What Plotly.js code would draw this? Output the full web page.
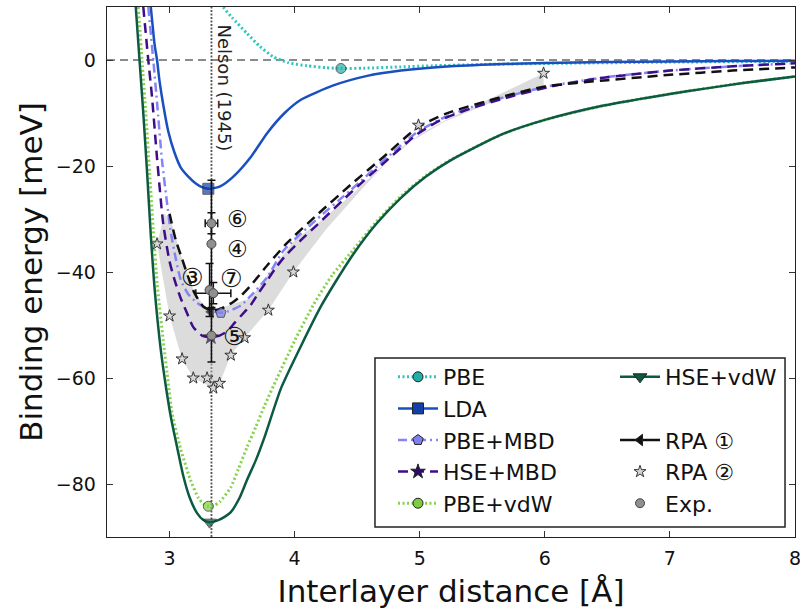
<!DOCTYPE html>
<html><head><meta charset="utf-8">
<script src="https://cdn.plot.ly/plotly-3.0.1.min.js"></script>
<style>html,body{margin:0;padding:0;background:#fff}#chart{width:800px;height:615px}</style>
</head><body><div id="chart"></div><script>
// ---------- data ----------
const xPBE = [3.40, 3.43, 3.50, 3.62, 3.72, 3.83, 3.95, 4.10, 4.25, 4.37, 4.55, 4.85, 5.10, 5.50, 6.00, 7.00, 8.00];
const yPBE = [11.5, 10, 8, 5, 2.6, 0.6, -0.5, -1.1, -1.45, -1.6, -1.55, -1.3, -1.1, -0.85, -0.65, -0.4, -0.25];

const xLDA = [2.84, 2.85, 2.88, 2.90, 2.92, 2.95, 2.99, 3.04, 3.09, 3.15, 3.21, 3.26, 3.31, 3.40, 3.51, 3.65, 3.78, 3.92, 4.05, 4.31, 4.58, 4.85, 5.11, 5.50, 6.00, 6.50, 7.00, 7.50, 8.00];
const yLDA = [12, 10, 3, 0, -4, -8.5, -13.5, -17.5, -20.3, -22, -23.3, -24, -24.3, -23.9, -22, -18.3, -13.8, -10, -7.5, -4.8, -3.0, -2.0, -1.4, -0.9, -0.55, -0.4, -0.3, -0.2, -0.15];

const xPBEMBD = [2.83, 2.87, 2.90, 2.94, 2.98, 3.01, 3.05, 3.09, 3.15, 3.22, 3.30, 3.36, 3.41, 3.47, 3.57, 3.67, 3.78, 3.91, 4.18, 4.45, 4.71, 4.98, 5.20, 5.50, 6.00, 6.50, 7.00, 7.50, 8.00];
const yPBEMBD = [10, 0, -8, -19, -27, -32.5, -37.5, -41.5, -44.2, -45.8, -47, -47.5, -47.7, -47.4, -46.3, -44, -41, -36, -30, -24.5, -19, -13.6, -10.8, -8.2, -5.1, -3.2, -2.0, -1.2, -0.6];

const xHSEMBD = [2.79, 2.83, 2.86, 2.90, 2.95, 3.00, 3.04, 3.09, 3.13, 3.19, 3.26, 3.33, 3.40, 3.46, 3.52, 3.57, 3.65, 3.71, 3.77, 3.84, 3.92, 4.05, 4.18, 4.45, 4.71, 4.98, 5.17, 5.40, 5.65, 6.05, 6.45, 7.00, 7.50, 8.00];
const yHSEMBD = [10, 0, -7, -18.5, -31, -38, -41.5, -45, -47.2, -50.4, -52, -52.3, -52, -51.2, -49.6, -48.3, -46.2, -44, -42, -39.5, -37.1, -34, -31.1, -25, -19.5, -14, -11.3, -9.2, -7.4, -5.0, -3.4, -2.0, -1.2, -0.6];

const xPBEvdW = [2.75, 2.78, 2.81, 2.84, 2.87, 2.90, 2.95, 2.99, 3.02, 3.09, 3.17, 3.23, 3.27, 3.31, 3.35, 3.40, 3.49, 3.55, 3.62, 3.69, 3.76, 3.86, 4.00, 4.15, 4.30, 4.47, 4.65, 4.85, 5.05, 5.25, 5.66, 6.00, 6.47, 7.00, 7.50, 8.00];
const yPBEvdW = [10, 0, -10, -21, -32, -42, -53, -61, -66.6, -73.5, -79.4, -82.6, -83.7, -84.2, -84.1, -83.4, -80.6, -77.2, -73, -69.2, -65.2, -60, -53, -46.2, -40.6, -35.8, -30.6, -25.7, -21.8, -18.8, -14, -11.3, -8.6, -6.4, -4.6, -3.1];

const xHSEvdW = [2.73, 2.76, 2.79, 2.82, 2.85, 2.88, 2.93, 2.97, 3.01, 3.06, 3.11, 3.16, 3.22, 3.27, 3.32, 3.38, 3.44, 3.49, 3.56, 3.62, 3.69, 3.76, 3.89, 4.05, 4.21, 4.31, 4.47, 4.65, 4.85, 5.05, 5.25, 5.66, 6.00, 6.47, 7.00, 7.28, 7.60, 8.00];
const yHSEvdW = [10, 0, -10, -21, -33, -43, -54.7, -61.5, -67.3, -73, -78.5, -82.5, -85.5, -86.8, -87.2, -86.9, -86.2, -85.3, -82.6, -79.2, -75.5, -71.1, -62, -54, -46.5, -42.5, -36.6, -31, -26, -22, -18.9, -14, -11.3, -8.6, -6.4, -5.4, -4.3, -3.1];

const xRPA1 = [3.00, 3.05, 3.10, 3.15, 3.20, 3.27, 3.34, 3.42, 3.50, 3.57, 3.64, 3.79, 3.94, 4.18, 4.45, 4.71, 4.98, 5.20, 5.65, 6.00, 6.50, 7.00, 7.50, 8.00];
const yRPA1 = [-29, -34, -37.5, -41, -44, -46.5, -47.3, -46.8, -45.8, -44.5, -42.8, -38.5, -34.5, -29.2, -23.5, -18.3, -12.8, -10.2, -7, -5, -3.8, -2.8, -2.0, -1.4];

// RPA (2) individual results
const xRPA2 = [2.90, 3.00, 3.10, 3.19, 3.30, 3.35, 3.40, 3.49, 3.60, 3.79, 3.99, 4.99, 5.99];
const yRPA2 = [-34.7, -48.3, -56.4, -60.0, -60.0, -61.9, -61.0, -55.7, -52.4, -47.2, -40.0, -12.3, -2.5];

// grey spread of RPA results (polygon outline)
const bandX = [2.90, 2.96, 3.02, 3.10, 3.20, 3.30, 3.40, 3.50, 3.65, 3.80, 4.00, 4.20, 4.45, 4.70, 5.00, 5.20, 5.99, 5.99, 5.60, 5.20, 4.85, 4.55, 4.25, 3.99, 3.79, 3.60, 3.49, 3.40, 3.35, 3.19, 3.10, 3.00, 2.90];
const bandY = [-34.7, -29, -31, -37.5, -44, -47, -47, -46, -45, -40, -34, -30.5, -25.5, -20, -14, -11.4, -2.5, -5.0, -7.8, -11.6, -16.5, -24, -32, -40, -47.2, -52.4, -55.7, -61, -61.9, -60, -56.4, -48.3, -34.7];

// marked minima: PBE, LDA, PBE+MBD, HSE+MBD, PBE+vdW, HSE+vdW, RPA1
const markX = [4.37, 3.31, 3.41, 3.33, 3.31, 3.32, 3.33];
const markY = [-1.6, -24.3, -47.7, -52.3, -84.2, -87.2, -47.5];

// experiments
const expLabels = ['⑥', '④', '③', '⑦', '⑤'];
const expX = [3.335, 3.335, 3.32, 3.35, 3.335];
const expY = [-30.8, -34.7, -43.4, -44.0, -52.0];
const expYErr = [2, 12, 5, 2, 5];
const expXErr = [0.05, NaN, NaN, 0.14, NaN];

const nelsonX = 3.335;
const xTicks = [3, 4, 5, 6, 7, 8];
const yTicks = [0, -20, -40, -60, -80];

// ---------- styling ----------
const FONT = 'DejaVu Sans';
const C = {
  pbe: '#2cc6be', lda: '#1a4fbf', pbembd: '#8484f8', hsembd: '#3e0e8a',
  pbevdw: '#86d24a', hsevdw: '#0c5a44', rpa1: '#111111'
};

function curve(x, y, color, dash, width) {
  return {x: x, y: y, mode: 'lines', type: 'scatter', showlegend: false, hoverinfo: 'skip',
    line: {color: color, dash: dash, width: width, shape: 'spline', smoothing: 0.6}};
}
function legendEntry(name, color, dash, width, symbol, mcolor, size, legend, rank) {
  return {x: [null], y: [null], mode: 'lines+markers', type: 'scatter', name: name,
    legend: legend, legendrank: rank,
    line: {color: color, dash: dash, width: width},
    marker: {symbol: symbol, color: mcolor, size: size, line: {color: '#222', width: 1}}};
}

const data = [
  {x: bandX, y: bandY, mode: 'lines', fill: 'toself', fillcolor: 'rgba(185,185,185,0.5)',
   line: {width: 0}, showlegend: false, hoverinfo: 'skip'},
  curve(xPBEvdW, yPBEvdW, C.pbevdw, '2px,2.5px', 3),
  curve(xHSEvdW, yHSEvdW, C.hsevdw, 'solid', 2.5),
  curve(xPBE, yPBE, C.pbe, '2px,2.5px', 3),
  curve(xLDA, yLDA, C.lda, 'solid', 2.5),
  curve(xPBEMBD, yPBEMBD, C.pbembd, '9px,4px,2px,4px', 2.5),
  curve(xHSEMBD, yHSEMBD, C.hsembd, '10px,6px', 2.5),
  curve(xRPA1, yRPA1, C.rpa1, '10px,6px', 2.5),
  {x: markX, y: markY, mode: 'markers', showlegend: false, hoverinfo: 'skip',
   marker: {symbol: ['circle', 'square', 'pentagon', 'star', 'circle', 'triangle-down', 'triangle-left'],
            color: ['#20b0a8', '#1040a8', '#8080f0', '#2c0a6a', '#80cc40', '#0c5a44', '#111'],
            size: [10, 11, 11, 11, 10, 12, 10], line: {color: '#222', width: 1}}},
  {x: xRPA2, y: yRPA2, mode: 'markers', name: 'RPA ②', legend: 'legend2', legendrank: 4,
   marker: {symbol: 'star', size: 9, color: '#d6d6d6', line: {color: '#333', width: 1}}},
  {x: expX, y: expY, mode: 'markers', name: 'Exp.', legend: 'legend2', legendrank: 5,
   marker: {symbol: 'circle', size: 9, color: '#8f8f8f', line: {color: '#444', width: 1}},
   error_y: {type: 'data', array: expYErr, color: '#111', thickness: 1.5, width: 4},
   error_x: {type: 'data', array: expXErr, color: '#111', thickness: 1.5, width: 4}},
  legendEntry('PBE', C.pbe, '2px,2.5px', 3, 'circle', '#20b0a8', 10, 'legend', 1),
  legendEntry('LDA', C.lda, 'solid', 2.5, 'square', '#1040a8', 11, 'legend', 2),
  legendEntry('PBE+MBD', C.pbembd, '9px,4px,2px,4px', 2.5, 'pentagon', '#8080f0', 11, 'legend', 3),
  legendEntry('HSE+MBD', C.hsembd, '10px,6px', 2.5, 'star', '#2c0a6a', 11, 'legend', 4),
  legendEntry('PBE+vdW', C.pbevdw, '2px,2.5px', 3, 'circle', '#80cc40', 10, 'legend', 5),
  legendEntry('HSE+vdW', C.hsevdw, 'solid', 2.5, 'triangle-down', '#0c5a44', 12, 'legend2', 1),
  {x: [null], y: [null], mode: 'lines', name: ' ', legend: 'legend2', legendrank: 2,
   line: {color: 'rgba(0,0,0,0)', width: 0}},
  legendEntry('RPA ①', C.rpa1, 'solid', 2.5, 'triangle-left', '#111', 10, 'legend2', 3)
];

const annotations = [
  {x: nelsonX, y: 7, xref: 'x', yref: 'y', text: 'Nelson (1945)', textangle: 90,
   xanchor: 'left', yanchor: 'top', xshift: 1, showarrow: false,
   font: {family: FONT, size: 18, color: '#222'}},
  // labels 6 and 4 stacked in one text block
  {x: expX[0], y: (expY[0] + expY[1]) / 2, xref: 'x', yref: 'y',
   text: expLabels[0] + '<br>' + expLabels[1], showarrow: false, xshift: 26, yshift: 0,
   borderpad: 0, font: {family: FONT, size: 23, color: '#111'}}
];
const labelShift = [null, null, [-18, 13], [18, 15], [23, -1]];
[2, 3, 4].forEach(function (i) {
  annotations.push({x: expX[i], y: expY[i], xref: 'x', yref: 'y', text: expLabels[i], showarrow: false,
    xshift: labelShift[i][0], yshift: labelShift[i][1], borderpad: 0,
    font: {family: FONT, size: 25, color: '#111'}});
});

const layout = {
  width: 800, height: 615,
  margin: {l: 107, r: 5, t: 7, b: 78},
  paper_bgcolor: '#fff', plot_bgcolor: '#fff',
  font: {family: FONT, color: '#111'},
  xaxis: {range: [2.5, 8], tickvals: xTicks, ticktext: xTicks.map(String),
    ticks: 'inside', ticklen: 6, tickwidth: 1, tickcolor: '#333',
    showline: true, linecolor: '#222', linewidth: 1.3, mirror: 'ticks',
    showgrid: false, zeroline: false, tickfont: {size: 19, family: FONT, color: '#111'},
    ticklabelstandoff: 4, ticklabeloverflow: 'allow',
    title: {text: 'Interlayer distance [Å]', font: {size: 31, family: FONT, color: '#111'}, standoff: 12}},
  yaxis: {range: [-90, 10], tickvals: yTicks, ticks: 'inside', ticklen: 6, tickwidth: 1, tickcolor: '#333',
    showline: true, linecolor: '#222', linewidth: 1.3, mirror: 'ticks',
    showgrid: false, zeroline: false, tickfont: {size: 19, family: FONT, color: '#111'},
    ticklabelstandoff: 6, ticklabeloverflow: 'allow',
    title: {text: 'Binding energy [meV]', font: {size: 31, family: FONT, color: '#111'}, standoff: 4}},
  shapes: [
    {type: 'line', xref: 'paper', yref: 'y', x0: 0, x1: 1, y0: 0, y1: 0, layer: 'below',
     line: {color: '#666', width: 1.5, dash: '8px,5px'}},
    {type: 'line', xref: 'x', yref: 'paper', x0: nelsonX, x1: nelsonX, y0: 0, y1: 1, layer: 'below',
     line: {color: '#555', width: 1.8, dash: '2px,1.5px'}},
    {type: 'rect', xref: 'paper', yref: 'paper', x0: 0.3895, x1: 0.9855, y0: 0.0189, y1: 0.3377,
     layer: 'above', fillcolor: '#fff', line: {color: '#222', width: 1.5}}
  ],
  annotations: annotations,
  legend: {x: 0.4157, y: 0.3415, xanchor: 'left', yanchor: 'top', bgcolor: 'rgba(0,0,0,0)',
    borderwidth: 0, itemwidth: 40, font: {size: 22, family: FONT, color: '#111'}, traceorder: 'normal'},
  legend2: {x: 0.7384, y: 0.3415, xanchor: 'left', yanchor: 'top', bgcolor: 'rgba(0,0,0,0)',
    borderwidth: 0, itemwidth: 40, font: {size: 22, family: FONT, color: '#111'}, traceorder: 'normal'},
  showlegend: true
};

Plotly.newPlot('chart', data, layout, {displayModeBar: false, staticPlot: true});
</script></body></html>
